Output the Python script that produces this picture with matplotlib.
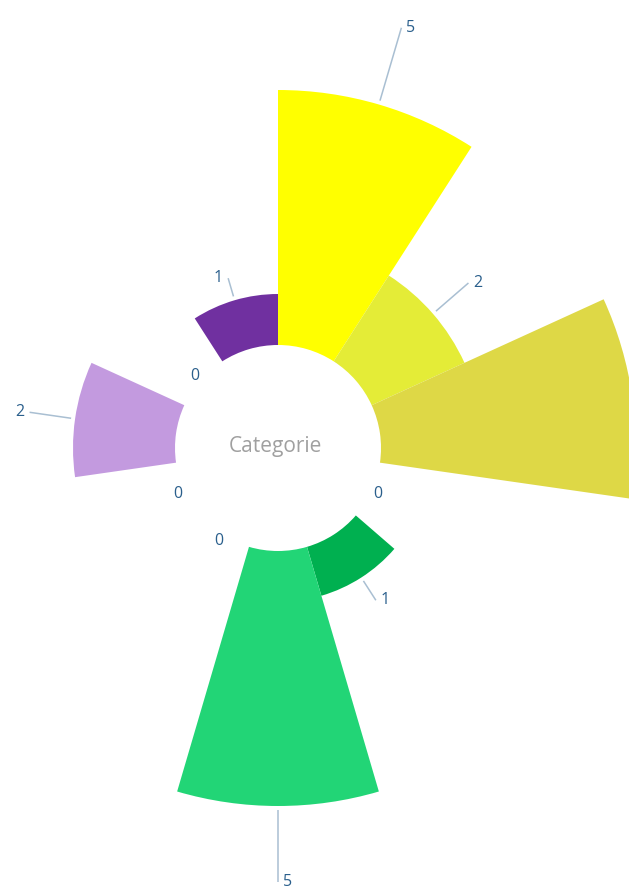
import numpy as np
import matplotlib
matplotlib.use("Agg")
import matplotlib.pyplot as plt
from matplotlib.patches import Wedge

# data (clockwise from 12 o'clock)
values = [5, 2, 5, 0, 1, 5, 0, 0, 2, 0, 1]
colors = ["#FFFF00", "#E4EC37", "#DED846", "#B0B0B0", "#00B050", "#22D576",
          "#A0A0A0", "#909090", "#C39ADF", "#808080", "#7030A0"]
line_lengths = [76, 43, 40, 0, 23, 72, 0, 0, 42, 0, 19]
center_title = "Categorie"

W, H = 629, 894
fig = plt.figure(figsize=(W / 100, H / 100), dpi=100)
ax = fig.add_axes([0, 0, 1, 1])
ax.set_xlim(0, W)
ax.set_ylim(0, H)
ax.axis("off")

cx, cy = 278, H - 448
r0 = 103.0
k = 51.0
n = len(values)
span = 360.0 / n

label_color = "#2A5F8C"
line_color = "#A9BFD2"
fs = 11.5

for i, (v, c) in enumerate(zip(values, colors)):
    a1 = i * span
    a2 = (i + 1) * span
    am = (a1 + a2) / 2
    r = r0 + k * v
    if v > 0:
        ax.add_patch(Wedge((cx, cy), r, 90 - a2, 90 - a1, width=r - r0,
                           facecolor=c, edgecolor="none", antialiased=True))
    s = np.sin(np.radians(am))
    co = np.cos(np.radians(am))
    if v > 0:
        rs = r + 4
        re = r + 4 + line_lengths[i]
        x1, y1 = cx + rs * s, cy + rs * co
        x2, y2 = cx + re * s, cy + re * co
        if x2 > W:
            continue
        ax.plot([x1, x2], [y1, y2], color=line_color, lw=1.1, solid_capstyle="butt")
        right = s >= -0.01
        ax.text(x2 + (5 if right else -5), y2, str(v), ha="left" if right else "right",
                va="center", color=label_color, fontsize=fs, family="Open Sans")
    else:
        rl = r0 + 7
        ax.text(cx + rl * s, cy + rl * co, "0", ha="center", va="center",
                color=label_color, fontsize=fs, family="Open Sans")

ax.text(cx - 3, H - 452, center_title, ha="center", va="baseline", color="#A0A0A0",
        fontsize=15, family="Open Sans")

fig.savefig("out.png", dpi=100)
